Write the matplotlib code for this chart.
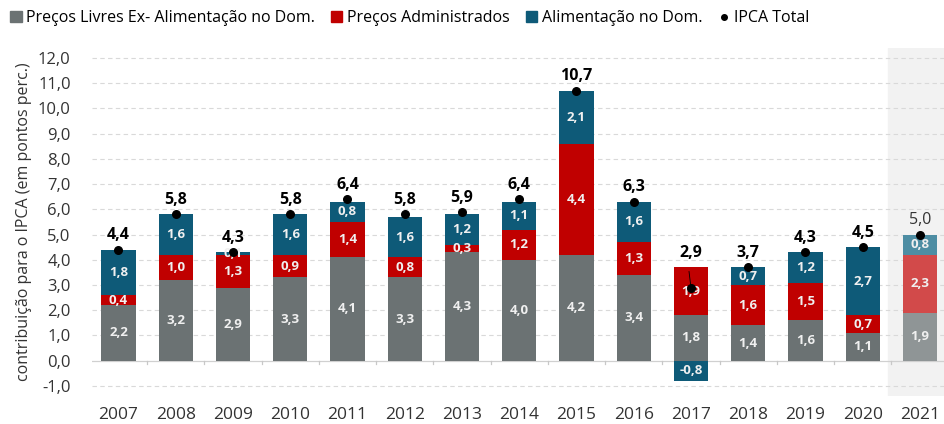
import matplotlib
matplotlib.use("Agg")
import matplotlib.pyplot as plt
from matplotlib.patches import Patch
from matplotlib.lines import Line2D
import numpy as np

plt.rcParams['font.family'] = ['Open Sans', 'DejaVu Sans']

years = ["2007", "2008", "2009", "2010", "2011", "2012", "2013", "2014",
         "2015", "2016", "2017", "2018", "2019", "2020", "2021"]
livres = [2.2, 3.2, 2.9, 3.3, 4.1, 3.3, 4.3, 4.0, 4.2, 3.4, 1.8, 1.4, 1.6, 1.1, 1.9]
administrados = [0.4, 1.0, 1.3, 0.9, 1.4, 0.8, 0.3, 1.2, 4.4, 1.3, 1.9, 1.6, 1.5, 0.7, 2.3]
alimentacao = [1.8, 1.6, 0.1, 1.6, 0.8, 1.6, 1.2, 1.1, 2.1, 1.6, -0.8, 0.7, 1.2, 2.7, 0.8]
ipca = [4.4, 5.8, 4.3, 5.8, 6.4, 5.8, 5.9, 6.4, 10.7, 6.3, 2.9, 3.7, 4.3, 4.5, 5.0]
yticks = list(range(-1, 13))

c_gray, c_red, c_blue = "#6b7273", "#c00000", "#0e5a78"
c_gray_l, c_red_l, c_blue_l = "#8f9596", "#d24a4a", "#4d8da3"

fig = plt.figure(figsize=(9.44, 4.24), dpi=100)
ax = fig.add_axes([0.097, 0.066, 0.903, 0.821])

x = np.arange(len(years))
w = 0.6
n = len(years)
proj = n - 1

ax.axvspan(proj - 0.56, n, color="#f2f2f2", zorder=0)

def fmt(v):
    return f"{v:.1f}".replace(".", ",")

for i in range(n):
    light = (i == proj)
    cg = c_gray_l if light else c_gray
    cr = c_red_l if light else c_red
    cb = c_blue_l if light else c_blue
    g, r, b = livres[i], administrados[i], alimentacao[i]
    ax.bar(x[i], g, w, bottom=0, color=cg, zorder=2)
    ax.bar(x[i], r, w, bottom=g, color=cr, zorder=2)
    if b >= 0:
        ax.bar(x[i], b, w, bottom=g + r, color=cb, zorder=2)
        bc = g + r + b / 2
        top = g + r + b
    else:
        ax.bar(x[i], b, w, bottom=0, color=cb, zorder=2)
        bc = b / 2
        top = g + r
    tc = "#f0f0f0"
    ax.text(x[i], g / 2, fmt(g), ha="center", va="center", color=tc, fontsize=9.5, fontweight="bold", zorder=4)
    ax.text(x[i], g + r / 2, fmt(r), ha="center", va="center", color=tc, fontsize=9.5, fontweight="bold", zorder=4)
    ax.text(x[i], bc, fmt(b), ha="center", va="center", color=tc, fontsize=9.5, fontweight="bold", zorder=4)
    ax.scatter(x[i], ipca[i], s=30, color="black", zorder=5)
    lbl_y = max(top, ipca[i]) + 0.25
    if light:
        ax.text(x[i], lbl_y, fmt(ipca[i]), ha="center", va="bottom", fontsize=11.5, color="#333333", zorder=5)
    else:
        ax.text(x[i], lbl_y, fmt(ipca[i]), ha="center", va="bottom", fontsize=11.5, fontweight="bold", color="black", zorder=5)
    if ipca[i] < top - 0.3:
        ax.annotate("", xy=(x[i], ipca[i]), xytext=(x[i] - 0.04, top - 0.05),
                    arrowprops=dict(arrowstyle="-", color="black", lw=0.6), zorder=5)

for yv in yticks:
    if yv != 0:
        ax.axhline(yv, color="#d9d9d9", lw=0.8, ls=(0, (4, 3)), zorder=1)
ax.axhline(0, color="#d0d0d0", lw=0.9, zorder=1)

ax.set_ylim(-1.4, 12.4)
ax.set_xlim(-0.47, n - 0.58)
ax.set_yticks(yticks)
ax.set_yticklabels([fmt(v) for v in yticks], fontsize=12, color="#333333")
ax.set_xticks(x)
ax.set_xticklabels(years, fontsize=12.5, color="#333333")
ax.tick_params(axis="both", length=0)
ax.tick_params(axis="x", pad=8)
ax.tick_params(axis="y", pad=15)
for b in (np.arange(n - 1) + 0.5):
    ax.plot([b, b], [0, -0.15], color="#c8c8c8", lw=0.9, zorder=1)
for s in ax.spines.values():
    s.set_visible(False)
ax.set_ylabel("contribuição para o IPCA (em pontos perc.)", fontsize=11.5, color="#333333", labelpad=4)

handles = [
    Patch(color=c_gray, label="Preços Livres Ex- Alimentação no Dom."),
    Patch(color=c_red, label="Preços Administrados"),
    Patch(color=c_blue, label="Alimentação no Dom."),
    Line2D([], [], marker="o", color="black", ls="none", markersize=4, label="IPCA Total"),
]
fig.legend(handles=handles, loc="upper left", bbox_to_anchor=(0.0, 1.0), ncol=4, frameon=False,
           fontsize=11.5, handlelength=0.7, handleheight=0.7, handletextpad=0.3, columnspacing=1.0,
           borderaxespad=0.25)

fig.savefig("out.png", dpi=100)
